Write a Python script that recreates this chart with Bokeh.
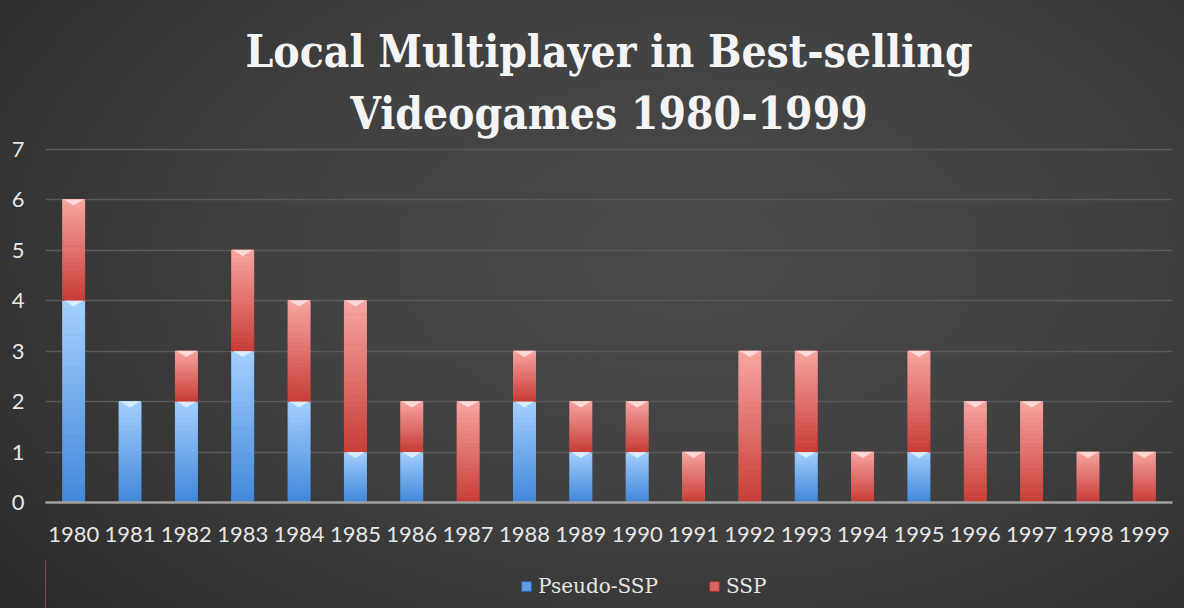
from bokeh.plotting import figure
from bokeh.layouts import column
from bokeh.models import Range1d, FixedTicker, Title, Legend, LegendItem, ColumnDataSource
from bokeh.embed import file_html
from bokeh.resources import INLINE

years = [str(y) for y in range(1980, 2000)]
pseudo_ssp = [4, 2, 2, 3, 2, 1, 1, 0, 2, 1, 1, 0, 0, 1, 0, 1, 0, 0, 0, 0]
ssp = [2, 0, 1, 2, 2, 3, 1, 2, 1, 1, 1, 1, 3, 2, 1, 2, 2, 2, 1, 1]
series_names = ["Pseudo-SSP", "SSP"]
title_lines = ["Local Multiplayer in Best-selling", "Videogames 1980-1999"]

BLUE_TOP, BLUE_BOT = (164, 208, 255), (66, 136, 218)
RED_TOP, RED_BOT = (248, 166, 162), (200, 62, 56)
BAR_W = 0.39
N_SLICES = 24
TITLE_FONT = "DejaVu Serif Condensed"
PAGE_BG = ("radial-gradient(ellipse 75% 90% at 58% 42%, #4a4a4a 0%, #414141 45%, "
           "#333333 80%, #2a2a2a 100%)")


def mix(c1, c2, t):
    return "#%02x%02x%02x" % tuple(int(round(a + (b - a) * t)) for a, b in zip(c1, c2))


p = figure(width=1184, height=560, output_backend="svg", toolbar_location=None,
           x_range=Range1d(-0.5, len(years) - 0.5), y_range=Range1d(0, 7.03),
           min_border_left=45, min_border_right=12, min_border_top=147, min_border_bottom=58,
           background_fill_color=None, border_fill_color=None,
           outline_line_color=None)

# gradient stacked bars
xs, tops, bots, cols = [], [], [], []
tri_xs, tri_ys, tri_cols = [], [], []
for i in range(len(years)):
    base = 0
    for val, ctop, cbot, hl in ((pseudo_ssp[i], BLUE_TOP, BLUE_BOT, "#e2f2ff"),
                                (ssp[i], RED_TOP, RED_BOT, "#ffe4e2")):
        if val <= 0:
            continue
        lo, hi = base, base + val
        for k in range(N_SLICES):
            t0 = hi - (hi - lo) * k / N_SLICES
            t1 = hi - (hi - lo) * (k + 1) / N_SLICES
            xs.append(i)
            tops.append(t0)
            bots.append(t1)
            cols.append(mix(ctop, cbot, (k + 0.5) / N_SLICES))
        tri_xs.append([i - BAR_W / 2 + 0.02, i + BAR_W / 2 - 0.02, i])
        tri_ys.append([hi, hi, hi - 0.12])
        tri_cols.append(hl)
        base = hi

src = ColumnDataSource(dict(x=xs, top=tops, bottom=bots, color=cols))
p.vbar(x="x", top="top", bottom="bottom", width=BAR_W, source=src,
       fill_color="color", line_color="color", line_width=1)
p.patches(tri_xs, tri_ys, fill_color=tri_cols, fill_alpha=0.85, line_color=None)

# axes
p.xaxis.ticker = FixedTicker(ticks=list(range(len(years))))
p.xaxis.major_label_overrides = {i: y for i, y in enumerate(years)}
p.xaxis.major_label_text_font = "Lato"
p.xaxis.major_label_text_font_size = "22px"
p.xaxis.major_label_text_color = "#e6e6e6"
p.xaxis.major_label_standoff = 18
p.xaxis.axis_line_color = "#a0a0a0"
p.xaxis.axis_line_width = 2.5
p.xaxis.major_tick_line_color = None
p.xaxis.minor_tick_line_color = None

p.yaxis.ticker = FixedTicker(ticks=list(range(0, 8)))
p.yaxis.major_label_text_font = "Lato"
p.yaxis.major_label_text_font_size = "22px"
p.yaxis.major_label_text_color = "#e6e6e6"
p.yaxis.major_label_standoff = 15
p.yaxis.axis_line_color = None
p.yaxis.major_tick_line_color = None
p.yaxis.minor_tick_line_color = None

p.xgrid.grid_line_color = None
p.ygrid.grid_line_color = "#5a5a5a"
p.ygrid.grid_line_width = 1.5

# two-line title: the later-added title sits farther from the plot
p.add_layout(Title(text=title_lines[1], align="center", text_font=TITLE_FONT,
                   text_font_style="bold", text_font_size="44px", text_color="#f4f4f4",
                   text_line_height=1.0, standoff=18, offset=20), "above")
p.add_layout(Title(text=title_lines[0], align="center", text_font=TITLE_FONT,
                   text_font_style="bold", text_font_size="44px", text_color="#f4f4f4",
                   text_line_height=1.0, standoff=0, offset=20), "above")

# legend strip under the chart
lf = figure(width=1184, height=48, output_backend="svg", toolbar_location=None,
            x_range=Range1d(0, 1), y_range=Range1d(0, 1),
            x_axis_type=None, y_axis_type=None,
            min_border=0, background_fill_color=None, border_fill_color=None,
            outline_line_color=None)
lf.grid.visible = False
r_blue = lf.vbar(x=[-5], top=[1], width=0.1, fill_color="#5f9de6", line_color="#2f6db0")
r_red = lf.vbar(x=[-5], top=[1], width=0.1, fill_color="#e0645f", line_color="#a8322e")
legend = Legend(items=[LegendItem(label=series_names[0], renderers=[r_blue]),
                       LegendItem(label=series_names[1], renderers=[r_red])],
                orientation="horizontal", location=(475, 10),
                background_fill_alpha=0, border_line_color=None,
                label_text_color="#e6e6e6", label_text_font="DejaVu Serif",
                label_text_font_size="20px", glyph_width=12, glyph_height=12,
                spacing=50, label_standoff=6, padding=0, margin=0)
lf.add_layout(legend, "center")

layout = column(p, lf, spacing=0, styles={"background": PAGE_BG})
open("out.html", "w").write(file_html(layout, INLINE))
